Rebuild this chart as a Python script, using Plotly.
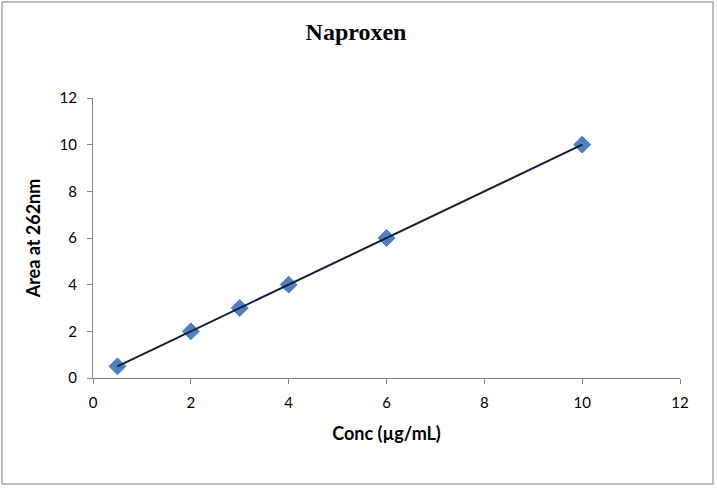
import plotly.graph_objects as go

conc = [0.5, 2, 3, 4, 6, 10]
area = [0.5, 2, 3, 4, 6, 10]
x_ticks = [0, 2, 4, 6, 8, 10, 12]
y_ticks = [0, 2, 4, 6, 8, 10, 12]

W, H = 717, 488
L, R, T, B = 93, 37, 98, 110
pw, ph = W - L - R, H - T - B

fig = go.Figure()
fig.add_trace(go.Scatter(x=conc, y=area, mode="markers",
                         marker=dict(symbol="diamond", size=13, color="#4F81BD",
                                     line=dict(width=1, color="#4A7EBB")),
                         showlegend=False))
fig.add_trace(go.Scatter(x=[conc[0], conc[-1]], y=[area[0], area[-1]], mode="lines",
                         line=dict(color="#0F1F33", width=2), showlegend=False))

axis_common = dict(showgrid=False, zeroline=False, showline=True, linecolor="#868686",
                   linewidth=1, ticks="outside", ticklen=5, tickcolor="#868686",
                   tickfont=dict(family="Lato", size=15, color="#000"))

fig.update_xaxes(range=[0, 12], tickvals=x_ticks, ticklabelstandoff=6, **axis_common,
                 title=dict(text="<b>Conc (µg/mL)</b>", font=dict(family="Lato", size=18, color="#000"), standoff=17))
fig.update_yaxes(range=[0, 12], tickvals=y_ticks, ticklabelstandoff=7, **axis_common,
                 title=dict(text="<b>Area at 262nm</b>", font=dict(family="Lato", size=18, color="#000"), standoff=14))

fig.update_layout(
    width=W, height=H,
    margin=dict(l=L, r=R, t=T, b=B),
    paper_bgcolor="white", plot_bgcolor="white",
    title=dict(text="<b>Naproxen</b>", x=(356) / W, xanchor="center", y=1 - 32 / H, yanchor="middle",
               font=dict(family="Liberation Serif", size=24, color="#000")),
    shapes=[dict(type="rect", xref="paper", yref="paper",
                 x0=(2 - L) / pw, x1=(713 - L) / pw,
                 y0=(H - B - 484) / ph, y1=(H - B - 2) / ph,
                 line=dict(color="#A6A6A6", width=1.5), fillcolor="rgba(0,0,0,0)", layer="below")],
)

fig.write_html("out.html")
